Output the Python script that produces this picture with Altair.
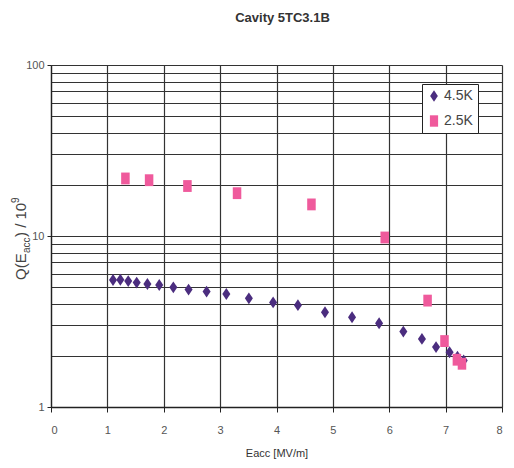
import altair as alt
import pandas as pd

# 4.5K series (diamonds)
e_45 = [1.10, 1.23, 1.37, 1.52, 1.71, 1.92, 2.17, 2.44, 2.76, 3.11, 3.51, 3.94, 4.38,
        4.86, 5.34, 5.82, 6.25, 6.58, 6.83, 7.07, 7.21, 7.32]
q_45 = [5.53, 5.55, 5.45, 5.34, 5.24, 5.17, 5.01, 4.86, 4.73, 4.58, 4.32, 4.09, 3.94,
        3.58, 3.35, 3.09, 2.76, 2.50, 2.24, 2.09, 1.97, 1.87]
# 2.5K series (squares)
e_25 = [1.32, 1.74, 2.42, 3.30, 4.62, 5.92, 6.68, 6.98, 7.20, 7.29]
q_25 = [21.7, 21.2, 19.6, 17.8, 15.3, 9.8, 4.19, 2.43, 1.89, 1.79]

series_names = ["4.5K", "2.5K"]
series_colors = ["#4b2d7f", "#ef5a9c"]
diamond = "M0,-1L0.68,0L0,1L-0.68,0Z"
square = "M-0.72,-1L0.72,-1L0.72,1L-0.72,1Z"

x_ticks = [0, 1, 2, 3, 4, 5, 6, 7, 8]
y_grid = [1, 2, 3, 4, 5, 6, 7, 8, 9, 10, 20, 30, 40, 50, 60, 70, 80, 90, 100]

df = pd.concat([
    pd.DataFrame({"E": e_45, "Q": q_45, "T": series_names[0]}),
    pd.DataFrame({"E": e_25, "Q": q_25, "T": series_names[1]}),
])

FONT = "Liberation Sans"
W, H = 451, 342

points = alt.Chart(df).mark_point(filled=True, opacity=1, strokeWidth=0, size=140).encode(
    x=alt.X("E:Q", scale=alt.Scale(domain=[0, 8], nice=False),
            axis=alt.Axis(values=x_ticks, grid=True, gridColor="#333333", gridWidth=1.2,
                          tickSize=5, tickColor="#222222", domainColor="#222222", domainWidth=1.3,
                          labelFont=FONT, labelFontSize=11, labelColor="#555555", labelPadding=12,
                          title="Eacc [MV/m]", titleFont=FONT, titleFontSize=11,
                          titleFontWeight="normal", titleColor="#333333", titlePadding=12)),
    y=alt.Y("Q:Q", scale=alt.Scale(type="log", domain=[1, 100], nice=False),
            axis=alt.Axis(values=y_grid, grid=True, gridColor="#333333", gridWidth=1.2,
                          tickSize=4, tickColor="#222222",
                          tickOpacity={"condition": {"test": "datum.value==1||datum.value==10||datum.value==100", "value": 1}, "value": 0},
                          labelExpr="(datum.value==1||datum.value==10||datum.value==100) ? datum.label : ''",
                          domainColor="#222222", domainWidth=1.3,
                          labelFont=FONT, labelFontSize=11, labelColor="#555555", labelPadding=3,
                          title=None)),
    color=alt.Color("T:N", scale=alt.Scale(domain=series_names, range=series_colors),
                    legend=alt.Legend(title=None, orient="none", legendX=371, legendY=19,
                                      fillColor="white", strokeColor="#222222", padding=5,
                                      labelFont=FONT, labelFontSize=14, labelColor="#444444",
                                      symbolSize=130, rowPadding=11, labelOffset=3)),
    shape=alt.Shape("T:N", scale=alt.Scale(domain=series_names, range=[diamond, square]), legend=None),
)

ytitle_parts = [
    ("Q(E", 15, -25, 215),
    ("acc", 10, -21, 188),
    (") / 10", 15, -25, 172),
    ("9", 10, -32, 138),
]
layers = [points]
for txt, fs, xx, yy in ytitle_parts:
    layers.append(
        alt.Chart(pd.DataFrame({"t": [txt]})).mark_text(
            angle=270, align="left", baseline="alphabetic", font=FONT, fontSize=fs, color="#444444"
        ).encode(text="t:N", x=alt.value(xx), y=alt.value(yy))
    )

chart = alt.layer(*layers).properties(
    width=W, height=H,
    title=alt.TitleParams("Cavity 5TC3.1B", font=FONT, fontSize=13, fontWeight="bold",
                          color="#333333", anchor="middle", offset=34, dx=6),
    autosize=alt.AutoSizeParams(type="none"),
    padding={"left": 43, "top": 57, "right": 4, "bottom": 53},
).configure_view(stroke=None)

chart.save("out.html", embed_options={"renderer": "svg", "actions": False})
